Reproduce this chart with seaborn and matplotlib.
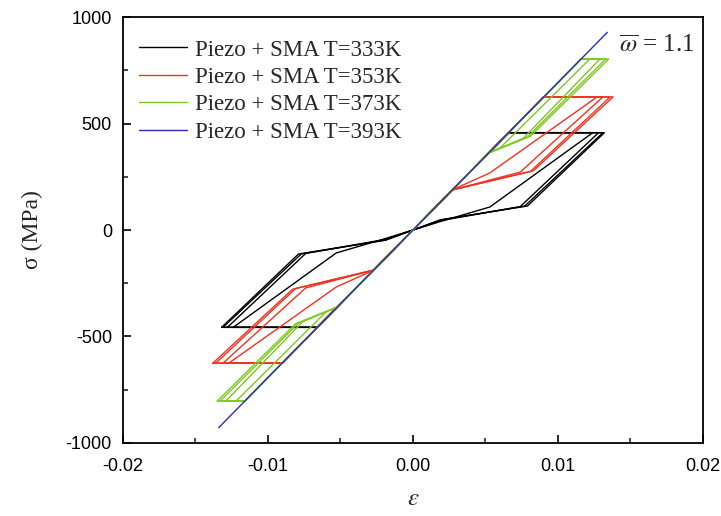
import numpy as np
import pandas as pd
import matplotlib
matplotlib.use("Agg")
import matplotlib.pyplot as plt
import seaborn as sns

# ---------------- data ----------------
labels = ["Piezo + SMA T=333K", "Piezo + SMA T=353K",
          "Piezo + SMA T=373K", "Piezo + SMA T=393K"]
colors = ["#000000", "#f0321e", "#7dc81e", "#2c2cb4"]

# elastic branch (T=393K)
blue_eps = [-0.0134, 0.0134]
blue_sig = [-928.0, 928.0]

# T=333K : per cycle (upper-right half, lower-left is point-symmetric)
black_sigmax = 457.0
black_blue_eps = 0.0066           # where the top plateau meets the elastic line
black_mid_eps = [0.0019, 0.0019, 0.0019, 0.0019]
black_mid_sig = [40.0, 44.0, 47.0, 48.0]
black_knee_eps = [0.0053, 0.0074, 0.0077, 0.0079]
black_knee_sig = [108.0, 110.0, 112.0, 113.0]
black_top_eps = [0.0124, 0.0128, 0.0131, 0.0132]

# T=353K
red_sigmax = 625.0
red_blue_eps = 0.0090
red_dep_eps = [0.0027, 0.0027, 0.0027, 0.0027]
red_dep_sig = [188.0, 188.0, 188.0, 188.0]
red_knee_eps = [0.0053, 0.0074, 0.0081, 0.0083]
red_knee_sig = [268.0, 272.0, 275.0, 278.0]
red_top_eps = [0.0127, 0.0131, 0.0136, 0.0138]

# T=373K
green_sigmax = 803.0
green_blue_eps = 0.0116
green_dep_eps = [0.0052, 0.0052, 0.0052, 0.0052]
green_dep_sig = [361.0, 361.0, 361.0, 361.0]
green_knee_eps = [0.0060, 0.0076, 0.0079, 0.0081]
green_knee_sig = [385.0, 430.0, 437.0, 440.0]
green_top_eps = [0.0122, 0.0129, 0.0133, 0.0135]

# ---------------- build table ----------------
rows = []

def add_loop(label, cyc, e_pts, s_pts):
    for i, (e, s) in enumerate(zip(e_pts, s_pts)):
        rows.append(dict(label=label, cycle=cyc, order=i, eps=e, sig=s))

def loop(dep_e, dep_s, knee_e, knee_s, top_e, sigmax, blue_e):
    half_e = [dep_e, knee_e, top_e]
    half_s = [dep_s, knee_s, sigmax]
    e = [-x for x in half_e[::-1]] + half_e + [blue_e, -blue_e, -top_e]
    s = [-x for x in half_s[::-1]] + half_s + [sigmax, -sigmax, -sigmax]
    return e, s

for c in range(4):
    e, s = loop(black_mid_eps[c], black_mid_sig[c], black_knee_eps[c],
                black_knee_sig[c], black_top_eps[c], black_sigmax, black_blue_eps)
    add_loop(labels[0], c, e, s)
for c in range(4):
    e, s = loop(red_dep_eps[c], red_dep_sig[c], red_knee_eps[c],
                red_knee_sig[c], red_top_eps[c], red_sigmax, red_blue_eps)
    add_loop(labels[1], c, e, s)
for c in range(4):
    e, s = loop(green_dep_eps[c], green_dep_sig[c], green_knee_eps[c],
                green_knee_sig[c], green_top_eps[c], green_sigmax, green_blue_eps)
    add_loop(labels[2], c, e, s)
add_loop(labels[3], 0, blue_eps, blue_sig)

df = pd.DataFrame(rows)

# ---------------- plot ----------------
sns.set_theme(style="ticks")
plt.rcParams["font.family"] = ["Liberation Sans", "DejaVu Sans"]
plt.rcParams["mathtext.fontset"] = "stix"
plt.rcParams["axes.unicode_minus"] = False

fig = plt.figure(figsize=(7.21, 5.16), dpi=100)
ax = fig.add_axes([0.1706, 0.1415, 0.8044, 0.8255])

sns.lineplot(data=df, x="eps", y="sig", hue="label", units="cycle",
             estimator=None, sort=False, palette=colors, hue_order=labels,
             lw=1.0, ax=ax)

ax.set_xlim(-0.02, 0.02)
ax.set_ylim(-1000, 1000)
ax.set_xticks([-0.02, -0.01, 0.0, 0.01, 0.02])
ax.set_xticklabels(["-0.02", "-0.01", "0.00", "0.01", "0.02"])
ax.set_xticks(np.arange(-0.015, 0.02, 0.01), minor=True)
ax.set_yticks([-1000, -500, 0, 500, 1000])
ax.set_yticklabels(["-1000", "-500", "0", "500", "1000"])
ax.set_yticks([-750, -250, 250, 750], minor=True)
ax.tick_params(axis="both", which="major", direction="in", length=6, width=1.2,
               labelsize=13, colors="black")
ax.tick_params(axis="both", which="minor", direction="in", length=3.5, width=1.2)
ax.tick_params(axis="x", pad=11)
ax.tick_params(axis="y", pad=8)
for sp in ax.spines.values():
    sp.set_linewidth(1.3)
    sp.set_color("black")

ax.set_xlabel(r"$\varepsilon$", fontsize=18, labelpad=8)
ax.set_ylabel("σ (MPa)", fontsize=17, family=["Liberation Serif"], labelpad=16)

leg = ax.legend(loc="upper left", frameon=False,
                prop={"family": "Liberation Serif", "size": 16.5},
                handlelength=2.1, handletextpad=0.35, labelspacing=0.28,
                borderaxespad=0.3, bbox_to_anchor=(0.0, 0.985))
for h in leg.get_lines():
    h.set_linewidth(1.0)

ax.text(0.985, 0.933, r"$\overline{\omega}$ = 1.1", transform=ax.transAxes,
        ha="right", va="center", fontsize=18, family="Liberation Serif")

fig.savefig("out.png", dpi=100)
